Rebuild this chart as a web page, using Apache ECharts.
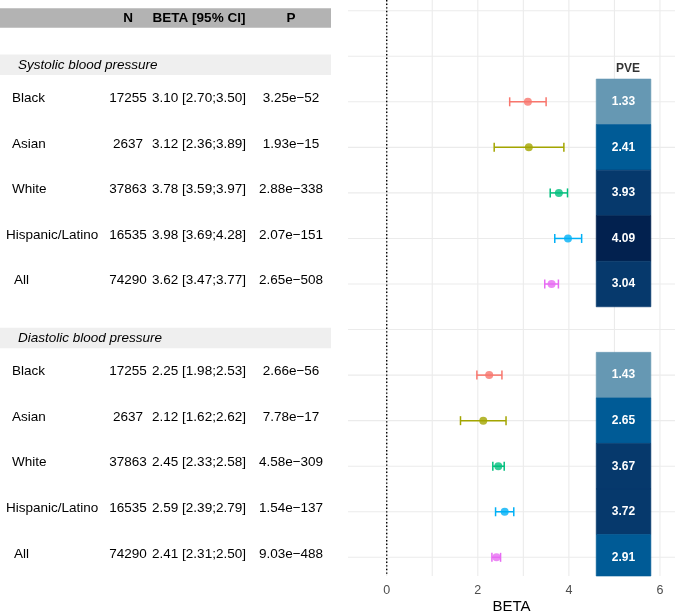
<!DOCTYPE html>
<html><head><meta charset="utf-8">
<script src="https://cdn.jsdelivr.net/npm/echarts@6/dist/echarts.min.js"></script>
<style>html,body{margin:0;padding:0;background:#fff}#c{width:675px;height:612px}</style>
</head><body><div id="c"></div>
<script>
// ---------- data ----------
const groups = ['Black', 'Asian', 'White', 'Hispanic/Latino', 'All'];
const groupColors = ['#F8766D', '#A3A500', '#00BF7D', '#00B0F6', '#E76BF3'];
const sampleN = [17255, 2637, 37863, 16535, 74290];

const sbpBeta = [3.10, 3.12, 3.78, 3.98, 3.62];
const sbpLo   = [2.70, 2.36, 3.59, 3.69, 3.47];
const sbpHi   = [3.50, 3.89, 3.97, 4.28, 3.77];
const sbpP    = ['3.25e\u221252', '1.93e\u221215', '2.88e\u2212338', '2.07e\u2212151', '2.65e\u2212508'];
const sbpPve  = [1.33, 2.41, 3.93, 4.09, 3.04];

const dbpBeta = [2.25, 2.12, 2.45, 2.59, 2.41];
const dbpLo   = [1.98, 1.62, 2.33, 2.39, 2.31];
const dbpHi   = [2.53, 2.62, 2.58, 2.79, 2.50];
const dbpP    = ['2.66e\u221256', '7.78e\u221217', '4.58e\u2212309', '1.54e\u2212137', '9.03e\u2212488'];
const dbpPve  = [1.43, 2.65, 3.67, 3.72, 2.91];

const traitNames = ['Systolic blood pressure', 'Diastolic blood pressure'];
const tableHeaders = ['N', 'BETA [95% CI]', 'P'];
const xAxisTitle = 'BETA';
const xTickLabels = [0, 2, 4, 6];
const xGridValues = [0, 1, 2, 3, 4, 5, 6];
const pveBreaks = [2, 3, 4];
const pveColors = ['#6698b3', '#005b96', '#06396c', '#02214f'];

// ---------- layout ----------
const FONT = '"Liberation Sans", Arial, Helvetica, sans-serif';
const traits = [
  {name: traitNames[0], beta: sbpBeta, lo: sbpLo, hi: sbpHi, p: sbpP, pve: sbpPve, headerRow: 1},
  {name: traitNames[1], beta: dbpBeta, lo: dbpLo, hi: dbpHi, p: dbpP, pve: dbpPve, headerRow: 7}
];
const errData = [], ptData = [], tileData = [];
traits.forEach(t => {
  groups.forEach((g, i) => {
    const row = t.headerRow + 1 + i;
    errData.push([t.lo[i], t.hi[i], row, i]);
    ptData.push({value: [t.beta[i], row], itemStyle: {color: groupColors[i]}});
    tileData.push([t.pve[i], row]);
  });
});
const maxRow = 12;
const gridLeft = 348, gridTop = 0, gridW = 327, gridH = 576;
const yMin = -0.235, yMax = 12.41;
const xMin = -0.85, xMax = 6.33;
function pveColor(v) {
  let k = 0;
  while (k < pveBreaks.length && v >= pveBreaks[k]) k++;
  return pveColors[k];
}

// grid line specs: [orientation (0 = vertical, 1 = horizontal), value]
const gridLineData = [];
xGridValues.forEach(v => gridLineData.push([0, v]));
for (let k = 0; k <= maxRow; k++) gridLineData.push([1, k]);

const chart = echarts.init(document.getElementById('c'));
chart.setOption({
  animation: false,
  backgroundColor: '#fff',
  grid: {left: gridLeft, top: gridTop, width: gridW, height: gridH, containLabel: false, outerBoundsMode: 'none'},
  xAxis: {
    type: 'value', min: xMin, max: xMax,
    axisLine: {show: false}, axisTick: {show: false}, splitLine: {show: false},
    axisLabel: {customValues: xTickLabels, fontFamily: FONT, fontSize: 12.5, color: '#4d4d4d', margin: 8}
  },
  yAxis: {
    type: 'value', inverse: true, min: yMin, max: yMax, show: false
  },
  series: [
    {
      type: 'custom', z: 1, silent: true, clip: true,
      data: gridLineData,
      renderItem: function (params, api) {
        const cs = params.coordSys;
        const o = api.value(0), v = api.value(1);
        let shape;
        if (o === 0) {
          const x = api.coord([v, 0])[0];
          shape = {x1: x, y1: cs.y, x2: x, y2: cs.y + cs.height};
        } else {
          const y = api.coord([0, v])[1];
          shape = {x1: cs.x, y1: y, x2: cs.x + cs.width, y2: y};
        }
        return {type: 'line', shape: shape, style: {stroke: '#ebebeb', lineWidth: 1.1}};
      }
    },
    {
      type: 'custom', z: 2, silent: true,
      data: [[0]],
      renderItem: function (params, api) {
        const cs = params.coordSys;
        const x = api.coord([api.value(0), 0])[0];
        return {type: 'line', shape: {x1: x, y1: cs.y, x2: x, y2: cs.y + cs.height},
          style: {stroke: '#000', lineWidth: 1.4, lineDash: [1.4, 2.2]}};
      }
    },
    {
      type: 'custom', z: 3, silent: true,
      data: tileData,
      encode: {x: 0, y: 1},
      renderItem: function (params, api) {
        const v = api.value(0), row = api.value(1);
        const p1 = api.coord([4.6, row - 0.5]);
        const p2 = api.coord([5.8, row + 0.5]);
        const cs = params.coordSys;
        const shape = echarts.graphic.clipRectByRect(
          {x: p1[0], y: p1[1], width: p2[0] - p1[0], height: p2[1] - p1[1]},
          {x: cs.x, y: cs.y, width: cs.width, height: cs.height});
        const c = api.coord([5.2, row]);
        const col = pveColor(v);
        return {
          type: 'group', children: [
            {type: 'rect', shape: shape, style: {fill: col, stroke: col, lineWidth: 0.6}},
            {type: 'text', x: c[0], y: c[1], style: {
              text: v.toFixed(2), fill: '#fff', font: 'bold 12px ' + FONT,
              align: 'center', verticalAlign: 'middle'}}
          ]
        };
      }
    },
    {
      type: 'custom', z: 4, silent: true,
      data: errData,
      encode: {x: [0, 1], y: 2},
      renderItem: function (params, api) {
        const row = api.value(2), gi = api.value(3);
        const a = api.coord([api.value(0), row]);
        const b = api.coord([api.value(1), row]);
        const h = 4.5;
        const st = {stroke: groupColors[gi], lineWidth: 1.5};
        return {
          type: 'group', children: [
            {type: 'line', shape: {x1: a[0], y1: a[1], x2: b[0], y2: b[1]}, style: st},
            {type: 'line', shape: {x1: a[0], y1: a[1] - h, x2: a[0], y2: a[1] + h}, style: st},
            {type: 'line', shape: {x1: b[0], y1: b[1] - h, x2: b[0], y2: b[1] + h}, style: st}
          ]
        };
      }
    },
    {
      type: 'scatter', z: 5, silent: true, symbol: 'circle', symbolSize: 8,
      data: ptData
    },
    {
      type: 'scatter', z: 5, silent: true, symbolSize: 0,
      data: [[5.3, 1.28]],
      label: {show: true, position: 'inside', formatter: 'PVE',
        fontFamily: FONT, fontSize: 12, fontWeight: 'bold', color: '#000'}
    }
  ]
});

// ---------- table (left) + axis title ----------
function rowY(k) { return chart.convertToPixel({yAxisIndex: 0}, k); }
const colX = [128, 199, 291];
const tfont = '13.5px ' + FONT;
const g = [];
g.push({type: 'text', x: gridLeft + gridW / 2, y: gridTop + gridH + 30.5, silent: true,
  style: {text: xAxisTitle, font: '15px ' + FONT, fill: '#000', align: 'center', verticalAlign: 'middle'}});
g.push({type: 'rect', shape: {x: 0, y: 8.3, width: 331, height: 19.5}, style: {fill: '#b3b3b3'}, silent: true});
tableHeaders.forEach((h, i) => {
  g.push({type: 'text', x: colX[i], y: 18.3, silent: true,
    style: {text: h, font: 'bold ' + tfont, fill: '#000', align: 'center', verticalAlign: 'middle'}});
});
traits.forEach(t => {
  const sy = rowY(t.headerRow) + 8.5;
  g.push({type: 'rect', shape: {x: 0, y: sy - 10.3, width: 331, height: 20.5}, style: {fill: '#efefef'}, silent: true});
  g.push({type: 'text', x: 18, y: sy, silent: true,
    style: {text: t.name, font: 'italic ' + tfont, fill: '#000', align: 'left', verticalAlign: 'middle'}});
  groups.forEach((gname, i) => {
    const y = rowY(t.headerRow + 1 + i) - 3.5;
    const lx = gname === 'Hispanic/Latino' ? 6 : (gname === 'All' ? 14 : 12);
    g.push({type: 'text', x: lx, y: y, silent: true,
      style: {text: gname, font: tfont, fill: '#000', align: 'left', verticalAlign: 'middle'}});
    g.push({type: 'text', x: colX[0], y: y, silent: true,
      style: {text: String(sampleN[i]), font: tfont, fill: '#000', align: 'center', verticalAlign: 'middle'}});
    g.push({type: 'text', x: colX[1], y: y, silent: true,
      style: {text: t.beta[i].toFixed(2) + ' [' + t.lo[i].toFixed(2) + ';' + t.hi[i].toFixed(2) + ']',
        font: tfont, fill: '#000', align: 'center', verticalAlign: 'middle'}});
    g.push({type: 'text', x: colX[2], y: y, silent: true,
      style: {text: t.p[i], font: tfont, fill: '#000', align: 'center', verticalAlign: 'middle'}});
  });
});
chart.setOption({graphic: {elements: g}});
</script>
</body></html>
